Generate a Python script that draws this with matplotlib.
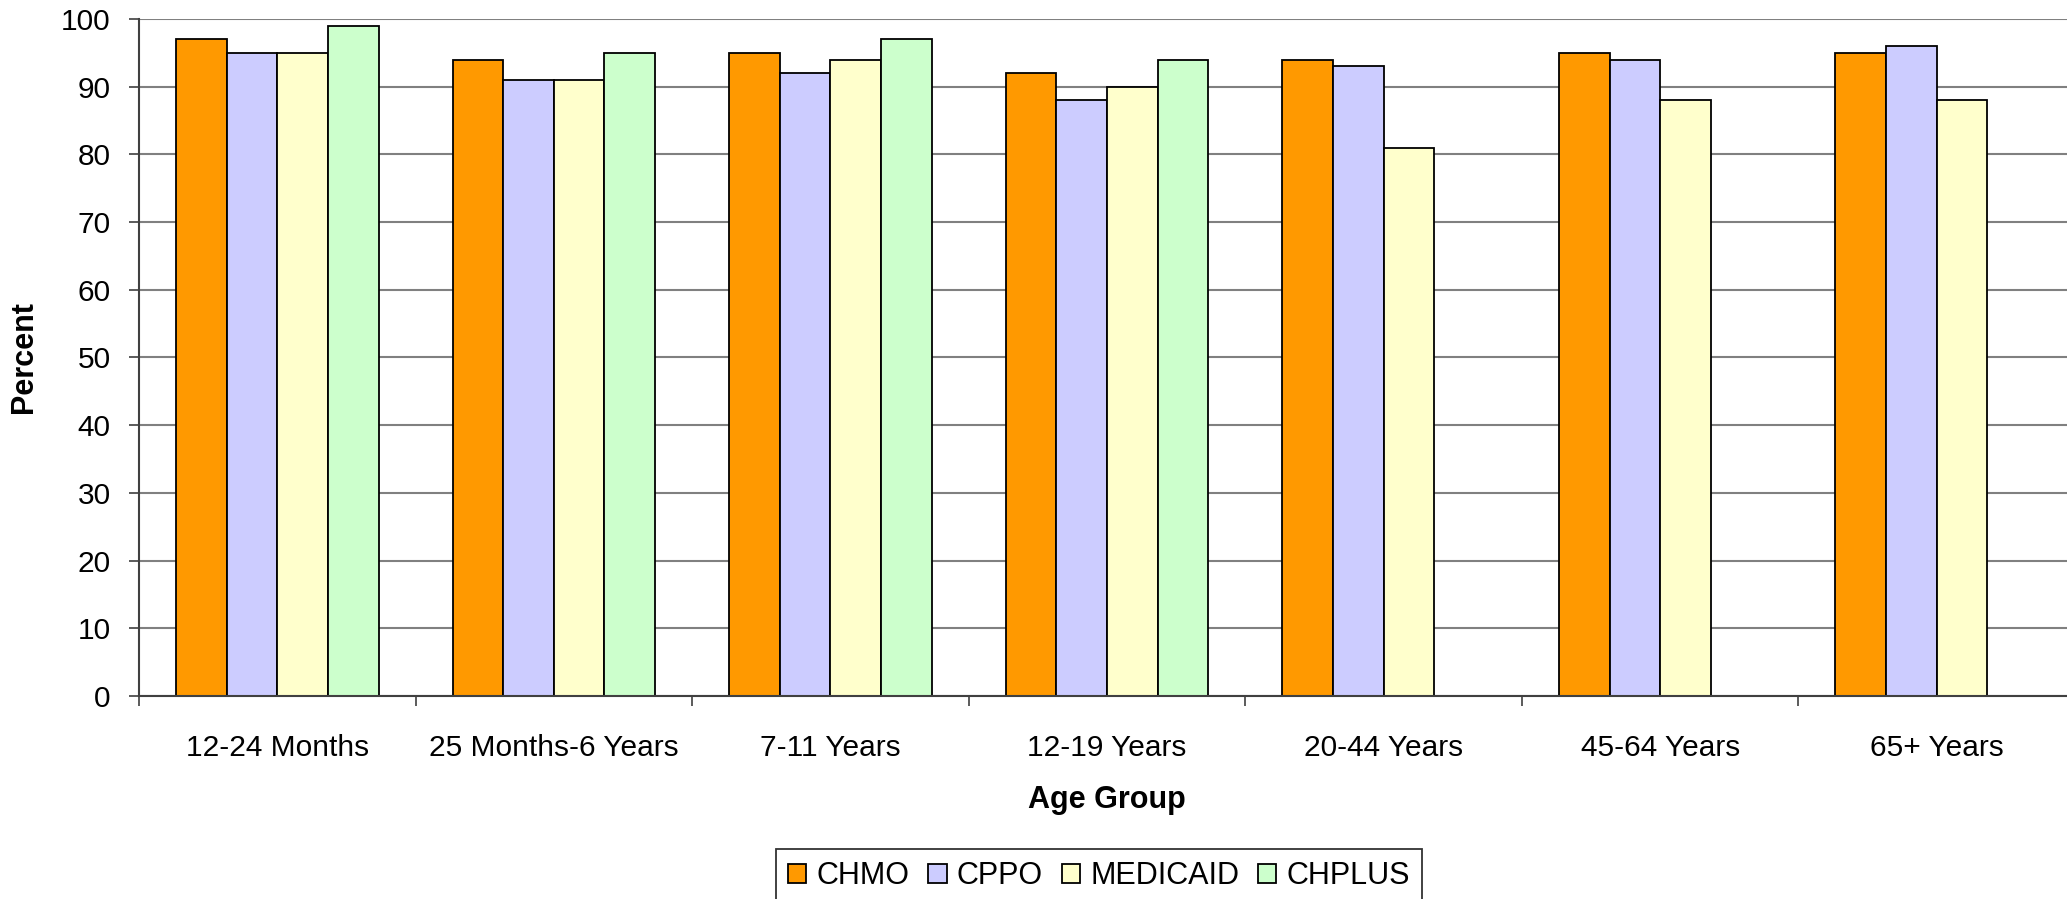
import numpy as np
import matplotlib
matplotlib.use("Agg")
import matplotlib.pyplot as plt

categories = ["12-24 Months", "25 Months-6 Years", "7-11 Years", "12-19 Years",
              "20-44 Years", "45-64 Years", "65+ Years"]
series_names = ["CHMO", "CPPO", "MEDICAID", "CHPLUS"]
chmo = [97, 94, 95, 92, 94, 95, 95]
cppo = [95, 91, 92, 88, 93, 94, 96]
medicaid = [95, 91, 94, 90, 81, 88, 88]
chplus = [99, 95, 97, 94, np.nan, np.nan, np.nan]
colors = ["#FF9900", "#CCCCFF", "#FFFFCC", "#CCFFCC"]
y_ticks = [0, 10, 20, 30, 40, 50, 60, 70, 80, 90, 100]

plt.rcParams['font.family'] = ['Liberation Sans', 'DejaVu Sans']

W, H = 2067, 899
fig = plt.figure(figsize=(W / 100, H / 100), dpi=100)
ax_left, ax_right, ax_top, ax_bot = 139, 2075, 19, 696
ax = fig.add_axes([ax_left / W, 1 - ax_bot / H, (ax_right - ax_left) / W, (ax_bot - ax_top) / H])

x = np.arange(len(categories))
bw = 0.183
all_series = [chmo, cppo, medicaid, chplus]
handles = []
for i, (vals, col, name) in enumerate(zip(all_series, colors, series_names)):
    off = (i - 1.5) * bw
    b = ax.bar(x + off, vals, width=bw, color=col, edgecolor="black", linewidth=1.3,
               label=name, zorder=3)
    handles.append(b)

ax.set_xlim(-0.5, len(categories) - 0.5)
ax.set_ylim(0, 100)
ax.set_yticks(y_ticks)
ax.set_yticklabels([str(v) for v in y_ticks], fontsize=21.5)
ax.yaxis.grid(True, color="#808080", linewidth=1.5, zorder=0)
ax.set_axisbelow(True)

# category boundaries as major ticks (no labels), labels on minor ticks
ax.set_xticks(np.arange(-0.5, len(categories) + 0.5, 1.0))
ax.set_xticklabels([])
ax.set_xticks(x, minor=True)
ax.set_xticklabels(categories, minor=True, fontsize=21.5)
ax.tick_params(axis='x', which='major', direction='out', length=7.5, width=1.2, color="#404040")
ax.tick_params(axis='x', which='minor', length=0, pad=27)
ax.tick_params(axis='y', direction='out', length=7.5, width=1.2, color="#404040", pad=13)

for s in ["top", "right"]:
    ax.spines[s].set_visible(False)
ax.spines["left"].set_color("#404040")
ax.spines["left"].set_linewidth(1.5)
ax.spines["bottom"].set_color("#404040")
ax.spines["bottom"].set_linewidth(1.5)
ax.spines["bottom"].set_zorder(4)

fig.text(24 / W, 1 - 357 / H, "Percent", rotation=90, ha="center", va="center",
         fontsize=22, fontweight="bold")
fig.text(1107 / W, 1 - 800 / H, "Age Group", ha="center", va="center",
         fontsize=22, fontweight="bold")

leg = fig.legend(handles=handles, labels=series_names, loc="upper center",
                 bbox_to_anchor=(1099 / W, 1 - 849 / H), ncol=4, fontsize=22,
                 frameon=True, fancybox=False, shadow=False,
                 handlelength=0.6, handleheight=0.6, handletextpad=0.33,
                 columnspacing=0.62, borderpad=0.4, borderaxespad=0)
leg.get_frame().set_edgecolor("black")
leg.get_frame().set_linewidth(1.3)

fig.savefig("out.png", dpi=100)
